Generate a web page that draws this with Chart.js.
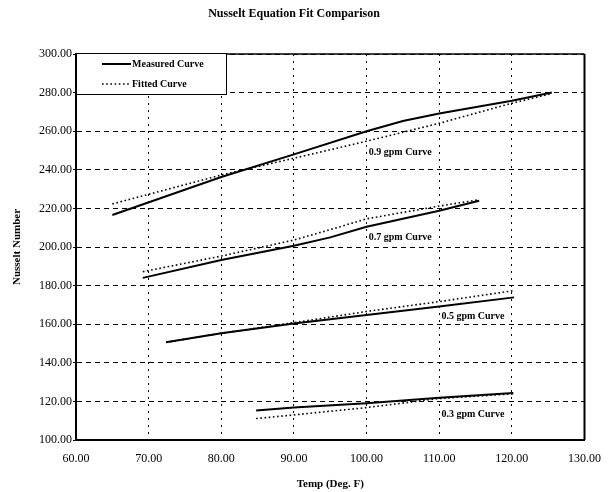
<!DOCTYPE html>
<html>
<head>
<meta charset="utf-8">
<title>Nusselt Equation Fit Comparison</title>
<script src="https://cdn.jsdelivr.net/npm/chart.js@4.4.1/dist/chart.umd.min.js"></script>
<style>
    html, body { margin: 0; padding: 0; background: #fff; }
    #wrap { width: 613px; height: 492px; }
</style>
</head>
<body>
<div id="wrap"><canvas id="nusseltChart" width="613" height="492"></canvas></div>
<script>
// 1. DATA (temp in Deg. F, Nusselt number)
const temp09Measured = [65, 80, 90, 100, 105, 110, 120, 125.5];
const nu09Measured   = [216.6, 236.3, 248, 260, 265.3, 269.2, 275.8, 280];
const temp09Fitted   = [65, 80, 90, 100, 110, 120, 125.5];
const nu09Fitted     = [222.3, 237.3, 246, 254.8, 264.1, 274.5, 279.5];

const temp07Measured = [69.2, 80, 90, 95, 100, 110, 115.5];
const nu07Measured   = [184, 193.3, 200.7, 205, 210.5, 218.8, 224];
const temp07Fitted   = [69.2, 80, 90, 95, 100, 110, 115.5];
const nu07Fitted     = [187.2, 195.3, 203.6, 209, 214.6, 221.2, 224.5];

const temp05Measured = [72.4, 80, 90, 100, 110, 120.3];
const nu05Measured   = [150.7, 155.3, 160.4, 164.8, 169.2, 173.9];
const temp05Fitted   = [72.4, 80, 90, 100, 110, 120.3];
const nu05Fitted     = [150.6, 155.3, 160.8, 166.6, 171.7, 177.4];

const temp03Measured = [84.8, 90, 100, 110, 120.2];
const nu03Measured   = [115.3, 116.9, 119.1, 121.9, 124.3];
const temp03Fitted   = [84.8, 90, 100, 110, 120.2];
const nu03Fitted     = [111.1, 113, 116.8, 121.5, 123.9];

const xTicks = [60, 70, 80, 90, 100, 110, 120, 130];
const yTicks = [100, 120, 140, 160, 180, 200, 220, 240, 260, 280, 300];

const curveNames = ['0.9 gpm Curve', '0.7 gpm Curve', '0.5 gpm Curve', '0.3 gpm Curve'];
const legendNames = ['Measured Curve', 'Fitted Curve'];

// 2. HELPERS
const SERIF = "'Liberation Serif', 'Times New Roman', serif";
const toPoints = (xs, ys) => xs.map((x, i) => ({ x: x, y: ys[i] }));

const measuredStyle = { borderColor: '#000', borderWidth: 2, borderDash: [], pointRadius: 0, showLine: true, fill: false };
const fittedStyle   = { borderColor: '#000', borderWidth: 1.6, borderDash: [1.6, 2.6], pointRadius: 0, showLine: true, fill: false };

const datasets = [
    { label: legendNames[0], data: toPoints(temp09Measured, nu09Measured), ...measuredStyle },
    { label: legendNames[1], data: toPoints(temp09Fitted, nu09Fitted), ...fittedStyle },
    { label: legendNames[0], data: toPoints(temp07Measured, nu07Measured), ...measuredStyle },
    { label: legendNames[1], data: toPoints(temp07Fitted, nu07Fitted), ...fittedStyle },
    { label: legendNames[0], data: toPoints(temp05Measured, nu05Measured), ...measuredStyle },
    { label: legendNames[1], data: toPoints(temp05Fitted, nu05Fitted), ...fittedStyle },
    { label: legendNames[0], data: toPoints(temp03Measured, nu03Measured), ...measuredStyle },
    { label: legendNames[1], data: toPoints(temp03Fitted, nu03Fitted), ...fittedStyle }
];

// curve labels, anchored in data units (left edge, vertical middle)
const curveLabelAnchors = [
    { x: 100.3, y: 249 },
    { x: 100.3, y: 205 },
    { x: 110.3, y: 164 },
    { x: 110.3, y: 113 }
];

// 3. PLUGINS (frame, curve labels, legend box)
const framePlugin = {
    id: 'frame',
    afterDatasetsDraw(chart) {
        const { ctx, chartArea: a } = chart;
        ctx.save();
        ctx.strokeStyle = '#000';
        ctx.setLineDash([]);
        ctx.lineWidth = 1.5;
        ctx.beginPath();
        ctx.moveTo(a.left, a.top);
        ctx.lineTo(a.right, a.top);
        ctx.stroke();
        ctx.lineWidth = 2;
        ctx.beginPath();
        ctx.moveTo(a.right, a.top);
        ctx.lineTo(a.right, a.bottom);
        ctx.stroke();
        ctx.restore();
    }
};

const curveLabelPlugin = {
    id: 'curveLabels',
    afterDatasetsDraw(chart) {
        const { ctx, scales: { x, y } } = chart;
        ctx.save();
        ctx.fillStyle = '#000';
        ctx.font = 'bold 10px ' + SERIF;
        ctx.textAlign = 'left';
        ctx.textBaseline = 'middle';
        curveNames.forEach((name, i) => {
            const p = curveLabelAnchors[i];
            ctx.fillText(name, x.getPixelForValue(p.x), y.getPixelForValue(p.y));
        });
        ctx.restore();
    }
};

const legendBoxPlugin = {
    id: 'legendBox',
    afterDraw(chart) {
        const { ctx, chartArea: a } = chart;
        const boxW = 150, boxH = 41;
        ctx.save();
        ctx.fillStyle = '#fff';
        ctx.fillRect(a.left, a.top - 1, boxW, boxH);
        ctx.strokeStyle = '#000';
        ctx.lineWidth = 1;
        ctx.setLineDash([]);
        ctx.strokeRect(a.left + 0.5, a.top - 0.5, boxW, boxH);

        const rows = [
            { name: legendNames[0], dash: [], width: 2, dy: 10 },
            { name: legendNames[1], dash: [1.6, 2.6], width: 1.6, dy: 30 }
        ];
        rows.forEach(r => {
            const ly = a.top + r.dy;
            ctx.setLineDash(r.dash);
            ctx.lineWidth = r.width;
            ctx.beginPath();
            ctx.moveTo(a.left + 26, ly);
            ctx.lineTo(a.left + 55, ly);
            ctx.stroke();
            ctx.setLineDash([]);
            ctx.fillStyle = '#000';
            ctx.font = 'bold 10px ' + SERIF;
            ctx.textAlign = 'left';
            ctx.textBaseline = 'middle';
            ctx.fillText(r.name, a.left + 56, ly);
        });
        ctx.restore();
    }
};

// 4. CHART
const ctx = document.getElementById('nusseltChart').getContext('2d');
const nusseltChart = new Chart(ctx, {
    type: 'scatter',
    data: { datasets: datasets },
    plugins: [framePlugin, curveLabelPlugin, legendBoxPlugin],
    options: {
        responsive: false,
        animation: false,
        devicePixelRatio: 1,
        layout: { padding: { left: 0, right: 25, top: 0, bottom: 0 } },
        elements: { line: { tension: 0 } },
        plugins: {
            legend: { display: false },
            tooltip: { enabled: false },
            title: {
                display: true,
                text: 'Nusselt Equation Fit Comparison',
                color: '#000',
                font: { family: SERIF, size: 12, weight: 'bold' },
                padding: { top: 7, bottom: 32.6 }
            }
        },
        scales: {
            x: {
                type: 'linear',
                min: 60,
                max: 130,
                afterBuildTicks: scale => { scale.ticks = xTicks.map(v => ({ value: v })); },
                afterFit: scale => { scale.height = 52; },
                ticks: {
                    color: '#000',
                    padding: 12,
                    maxRotation: 0,
                    font: { family: SERIF, size: 12 },
                    callback: v => Number(v).toFixed(2)
                },
                grid: { color: '#000', lineWidth: 1, drawTicks: false },
                border: { display: true, color: '#000', width: 2, dash: [2, 5] },
                title: {
                    display: true,
                    text: 'Temp (Deg. F)',
                    color: '#000',
                    font: { family: SERIF, size: 11, weight: 'bold' },
                    padding: { top: 0, bottom: 1 }
                }
            },
            y: {
                type: 'linear',
                min: 100,
                max: 300,
                afterBuildTicks: scale => { scale.ticks = yTicks.map(v => ({ value: v })); },
                afterFit: scale => { scale.width = 76; },
                ticks: {
                    color: '#000',
                    padding: 1,
                    font: { family: SERIF, size: 12 },
                    callback: v => Number(v).toFixed(2)
                },
                grid: { color: '#000', lineWidth: 1, drawTicks: true, tickLength: 3 },
                border: { display: true, color: '#000', width: 2, dash: [5, 4] },
                title: {
                    display: true,
                    text: 'Nusselt Number',
                    color: '#000',
                    font: { family: SERIF, size: 11, weight: 'bold' },
                    padding: { top: 11, bottom: 0 }
                }
            }
        }
    }
});
</script>
</body>
</html>
